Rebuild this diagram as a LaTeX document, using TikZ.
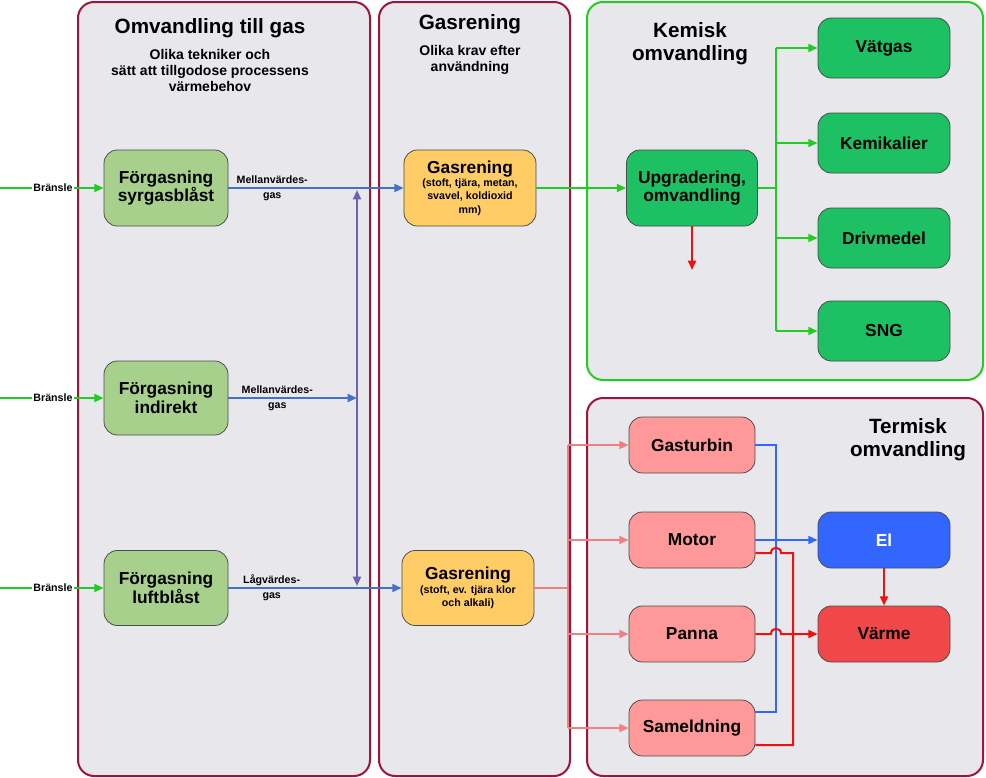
\documentclass[tikz,border=0pt]{standalone}
\usepackage{fontspec}
\setmainfont{Liberation Sans}
\usetikzlibrary{arrows.meta}
\definecolor{pbor}{HTML}{A0143C}
\definecolor{pfill}{HTML}{E8E8EC}
\definecolor{gbor}{HTML}{22CC22}
\definecolor{lgreen}{HTML}{A8D08D}
\definecolor{orng}{HTML}{FFCC66}
\definecolor{dgreen}{HTML}{1DC164}
\definecolor{pink}{HTML}{FF9999}
\definecolor{lpink}{HTML}{F08080}
\definecolor{elb}{HTML}{3366FF}
\definecolor{varm}{HTML}{F04848}
\definecolor{lblue}{HTML}{4472C4}
\definecolor{bblue}{HTML}{3366FF}
\definecolor{purp}{HTML}{7060B0}
\definecolor{arrg}{HTML}{22CC22}
\definecolor{rred}{HTML}{EE1111}
\begin{document}
\begin{tikzpicture}[x=0.75pt,y=-0.75pt,
 panel/.style={draw=pbor,line width=1.5pt,fill=pfill,rounded corners=12pt},
 box/.style={draw=black!70,line width=0.6pt,rounded corners=10pt,align=center,font=\bfseries\fontsize{13}{14}\selectfont,inner sep=0pt},
 small/.style={font=\bfseries\fontsize{8}{9}\selectfont,align=center},
 ttl/.style={font=\bfseries\fontsize{15.5}{17}\selectfont,align=center},
 sub/.style={font=\bfseries\fontsize{10.5}{12}\selectfont,align=center},
 ar/.style={-{Triangle[length=7pt,width=6pt]},line width=1.5pt},
 ln/.style={line width=1.5pt}]
\useasboundingbox (0,0) rectangle (986,778);
\path[panel] (78,2) rectangle (370,776);
\path[panel] (379,2) rectangle (570,776);
\path[panel,draw=gbor] (587,2) rectangle (983,380);
\path[panel] (587,398) rectangle (983,776);
\node[ttl] at (210,28) {Omvandling till gas};
\node[sub] at (210,70) {Olika tekniker och\\sätt att tillgodose processens\\värmebehov};
\node[ttl] at (470,24) {Gasrening};
\node[sub] at (470,60) {Olika krav efter\\användning};
\node[ttl] at (690,44) {Kemisk\\omvandling};
\node[ttl] at (908,440) {Termisk\\omvandling};
% nodes
\node[box,fill=lgreen,minimum width=124pt*0.75,minimum height=76pt*0.75] (f1) at (166,188) {Förgasning\\syrgasblåst};
\node[box,fill=lgreen,minimum width=124pt*0.75,minimum height=74pt*0.75] (f2) at (166,398) {Förgasning\\indirekt};
\node[box,fill=lgreen,minimum width=124pt*0.75,minimum height=75pt*0.75] (f3) at (166,588) {Förgasning\\luftblåst};
\node[box,fill=orng,minimum width=132pt*0.75,minimum height=76pt*0.75,font=\bfseries\fontsize{8}{10}\selectfont] (g1) at (470,188) {{\fontsize{13}{14}\selectfont Gasrening}\\(stoft, tjära, metan,\\svavel, koldioxid\\mm)};
\node[box,fill=orng,minimum width=132pt*0.75,minimum height=75pt*0.75,font=\bfseries\fontsize{8}{10}\selectfont] (g2) at (468,588) {{\fontsize{13}{14}\selectfont Gasrening}\\(stoft, ev. tjära klor\\och alkali)};
\node[box,fill=dgreen,minimum width=131pt*0.75,minimum height=76pt*0.75] (u) at (692,188) {Upgradering,\\omvandling};
\foreach \n/\t/\y in {v/Vätgas/48,k/Kemikalier/143,d/Drivmedel/238,s/SNG/331}
  \node[box,fill=dgreen,minimum width=132pt*0.75,minimum height=60pt*0.75] (\n) at (884,\y) {\t};
\foreach \n/\t/\y in {gt/Gasturbin/445,mo/Motor/540,pa/Panna/634,sa/Sameldning/728}
  \node[box,fill=pink,minimum width=126pt*0.75,minimum height=56pt*0.75] (\n) at (692,\y) {\t};
\node[box,fill=elb,text=white,minimum width=132pt*0.75,minimum height=56pt*0.75] (el) at (884,540) {El};
\node[box,fill=varm,minimum width=132pt*0.75,minimum height=56pt*0.75] (va) at (884,634) {Värme};
% Bränsle
\foreach \f in {f1,f2,f3}{
  \coordinate (s\f) at (0,0 |- \f.west);
  \draw[ar,arrg] (s\f) -- (\f.west);
  \node[small,fill=white,inner sep=1pt] at ([xshift=53pt*0.75]s\f) {Bränsle};}
% blue gas lines
\coordinate (j2) at (357,398);
\draw[ar,lblue] (f1.east) -- (g1.west) node[pos=0.25,small,text=black] {Mellanvärdes-\\[2pt]gas};
\draw[ar,lblue] (f2.east) -- (j2) node[pos=0.38,small,text=black] {Mellanvärdes-\\[2pt]gas};
\draw[ar,lblue] (f3.east) -- (g2.west) node[pos=0.25,small,text=black] {Lågvärdes-\\[2pt]gas};
\coordinate (pt) at (357,190); \coordinate (pb) at (357,586);
\draw[{Triangle[length=7pt,width=6pt]}-{Triangle[length=7pt,width=6pt]},line width=1.5pt,purp] (pt) -- (pb);
% chemical
\draw[ar,arrg] (g1.east) -- (u.west);
\coordinate (ud) at (692,270);
\draw[ar,rred] (u.south) -- (ud);
\coordinate (tc) at (776,188);
\draw[ln,arrg] (u.east) -- (tc);
\draw[ln,arrg] (776,48) -- (776,331);
\foreach \n in {v,k,d,s} \draw[ar,arrg] (776,0 |- \n.west) -- (\n.west);
% thermal
\coordinate (pc) at (568,588);
\draw[ln,lpink] (g2.east) -- (pc);
\draw[ln,lpink] (568,445) -- (568,728);
\foreach \n in {gt,mo,pa,sa} \draw[ar,lpink] (568,0 |- \n.west) -- (\n.west);
\draw[ln,bblue] (gt.east) -- (776,445) -- (776,712) -- (sa.east |- 0,712);
\draw[ar,bblue] (mo.east) -- (el.west);
\draw[ln,rred] (mo.east |- 0,553) -- (771,553) .. controls (771,546) and (781,546) .. (781,553) -- (793,553) -- (793,745) -- (sa.east |- 0,745);
\draw[ar,rred] (pa.east) -- (771,634) .. controls (771,627) and (781,627) .. (781,634) -- (va.west);
\draw[ar,rred] (el.south) -- (va.north);
\end{tikzpicture}
\end{document}
